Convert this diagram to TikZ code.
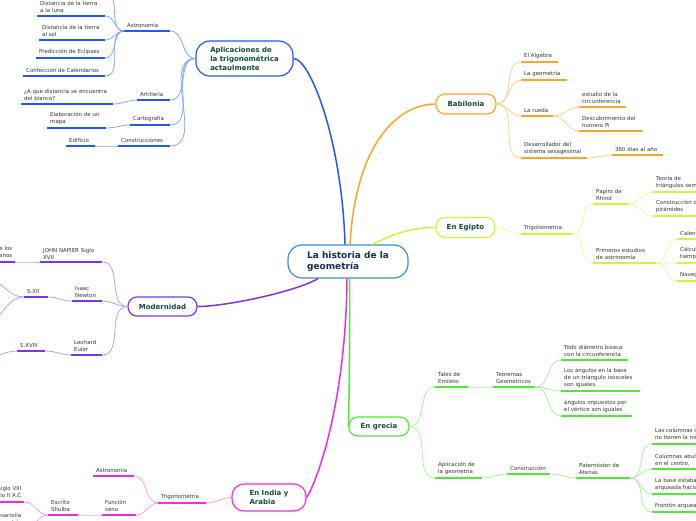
\documentclass[tikz,border=0pt]{standalone}
\usepackage{fontspec}
\setmainfont{DejaVu Sans}
\usepackage{xcolor}
\usepackage{tikz}
\definecolor{txt}{HTML}{333333}
\definecolor{topictxt}{HTML}{124A3A}
\definecolor{histtxt}{HTML}{172A55}
\definecolor{histline}{HTML}{3D8ED4}
\definecolor{blu}{HTML}{2457F5}
\definecolor{blul}{HTML}{86A4FA}
\definecolor{org}{HTML}{FFA526}
\definecolor{orgl}{HTML}{FFCE8A}
\definecolor{yel}{HTML}{D6F23C}
\definecolor{yell}{HTML}{EAF8A0}
\definecolor{pur}{HTML}{7B33F2}
\definecolor{purl}{HTML}{BC9CF8}
\definecolor{grn}{HTML}{4DEB33}
\definecolor{grnl}{HTML}{A9F29C}
\definecolor{mag}{HTML}{EE2AEE}
\definecolor{magl}{HTML}{F59CF5}
\colorlet{br}{black}
\colorlet{brl}{gray}

\begin{document}
\begin{tikzpicture}[x=1pt, y=-1pt,
  topic/.style={draw=#1, line width=1.2pt, rounded corners=9pt, fill=white, align=left, text=topictxt, font=\fontsize{7}{9}\selectfont\bfseries, inner sep=2pt},
  sub/.style={anchor=south west, text width=#1pt, align=left, inner xsep=3pt, inner ysep=2.8pt, font=\fontsize{5.45}{7}\selectfont, text=txt,
    append after command={(\tikzlastnode.south west) edge[ul] (\tikzlastnode.south east)}},
  ul/.style={draw=br, line width=1.8pt},
  lk/.style={draw=brl, line width=0.8pt},
  main/.style={draw=br, line width=1.5pt}
]
\useasboundingbox (0,0) rectangle (696,520);
\fill[white] (0,0) rectangle (696,520);
\clip (0,0) rectangle (696,520);

\node[topic=histline, text=histtxt, font=\fontsize{9}{11}\selectfont\bfseries, minimum width=120pt, minimum height=33pt, rounded corners=14pt] (hist) at (348,261.5) {La historia de la\\geometría};

% Aplicaciones
\begin{scope}
\colorlet{br}{blu}\colorlet{brl}{blul}
\node[topic=blu, minimum width=97pt, minimum height=35pt, rounded corners=14pt] (apl) at (244.5,58.5) {Aplicaciones de\\la trigonométrica\\actaulmente};
\node[sub=40] (astro) at (124,31) {Astronomía};
\node[sub=62] (luna) at (37,16) {Distancia de la tierra\\a la luna};
\node[sub=60] (sol) at (39,40) {Distancia de la tierra\\al sol};
\node[sub=63] (ecl) at (36,58) {Predicción de Eclipses};
\node[sub=76] (cal) at (23,76) {Confección de Calendarios};
\coordinate (astrup) at (105,-8);
\node[sub=27] (art) at (137,100) {Artillería};
\node[sub=86] (dist) at (21,104) {¿A que distancia se encuentra\\del blanco?};
\node[sub=34] (carto) at (130,125) {Cartografía};
\node[sub=53] (mapa) at (47,128) {Elaboración de un\\mapa};
\node[sub=46] (constr) at (118,146) {Construcciones};
\node[sub=23] (edif) at (66,146) {Edificio};
\draw[main] ([xshift=-3pt]hist.north) .. controls (342,140) and (310,58.5) .. (apl.east);
\draw[lk] (apl.west) to[out=180,in=0] (astro.south east);
\draw[lk] (apl.west) to[out=180,in=0] (art.south east);
\draw[lk] (apl.west) to[out=180,in=0] (carto.south east);
\draw[lk] (apl.west) to[out=180,in=0] (constr.south east);
\draw[lk] (astro.south west) to[out=180,in=0] (astrup);
\draw[lk] (astro.south west) to[out=180,in=0] (luna.south east);
\draw[lk] (astro.south west) to[out=180,in=0] (sol.south east);
\draw[lk] (astro.south west) to[out=180,in=0] (ecl.south east);
\draw[lk] (astro.south west) to[out=180,in=0] (cal.south east);
\draw[lk] (art.south west) to[out=180,in=0] (dist.south east);
\draw[lk] (carto.south west) to[out=180,in=0] (mapa.south east);
\draw[lk] (constr.south west) to[out=180,in=0] (edif.south east);
\end{scope}

% Babilonia
\begin{scope}
\colorlet{br}{org}\colorlet{brl}{orgl}
\node[topic=org, minimum width=60pt, minimum height=20pt] (bab) at (466,104) {Babilonia};
\node[sub=31] (alg) at (521,62) {El Algebra};
\node[sub=40] (geo) at (521,80) {La geometría};
\node[sub=26] (rueda) at (521,116) {La rueda};
\node[sub=41] (circ) at (579,107) {estudio de la\\circunferencia};
\node[sub=58] (pi) at (579,131) {Descubrimiento del\\numero Pi};
\node[sub=60] (sexa) at (521,158) {Desarrollador del\\sistema sexagesimal};
\node[sub=45] (dias) at (612,155) {360 dias al año};
\draw[main] ([xshift=2pt]hist.north) .. controls (356,140) and (400,104) .. (bab.west);
\draw[lk] (bab.east) to[out=0,in=180] (alg.south west);
\draw[lk] (bab.east) to[out=0,in=180] (geo.south west);
\draw[lk] (bab.east) to[out=0,in=180] (rueda.south west);
\draw[lk] (bab.east) to[out=0,in=180] (sexa.south west);
\draw[lk] (rueda.south east) to[out=0,in=180] (circ.south west);
\draw[lk] (rueda.south east) to[out=0,in=180] (pi.south west);
\draw[lk] (sexa.south east) to[out=0,in=180] (dias.south west);
\end{scope}

% Egipto
\begin{scope}
\colorlet{br}{yel}\colorlet{brl}{yell}
\node[topic=yel, minimum width=59pt, minimum height=20pt] (egi) at (465.5,227.5) {En Egipto};
\node[sub=45] (etrig) at (521,234) {Trigonometria};
\node[sub=29] (rhind) at (593,204) {Papiro de\\Rhind};
\node[sub=104] (tsem) at (653,192) {Teoría de\\triángulos semejantes};
\node[sub=104] (pir) at (653,216) {Construcción de\\pirámides};
\node[sub=57] (astr) at (593,263) {Primeros estudios\\de astronomía};
\node[sub=54] (calen) at (677,239) {Calendario};
\node[sub=54] (tiemp) at (677,263) {Cálculo del\\tiempo};
\node[sub=54] (naveg) at (677,281) {Navegación};
\draw[main] ([xshift=25pt]hist.north) .. controls (392,234) and (412,227.5) .. (egi.west);
\draw[lk] (egi.east) to[out=0,in=180] (etrig.south west);
\draw[lk] (etrig.south east) to[out=0,in=180] (rhind.south west);
\draw[lk] (etrig.south east) to[out=0,in=180] (astr.south west);
\draw[lk] (rhind.south east) to[out=0,in=180] (tsem.south west);
\draw[lk] (rhind.south east) to[out=0,in=180] (pir.south west);
\draw[lk] (astr.south east) to[out=0,in=180] (calen.south west);
\draw[lk] (astr.south east) to[out=0,in=180] (tiemp.south west);
\draw[lk] (astr.south east) to[out=0,in=180] (naveg.south west);
\end{scope}

% Modernidad
\begin{scope}
\colorlet{br}{pur}\colorlet{brl}{purl}
\node[topic=pur, minimum width=69pt, minimum height=19pt] (mod) at (162.5,306.5) {Modernidad};
\node[sub=56] (napier) at (40,262) {JOHN NAPIER Siglo\\XVII};
\node[sub=99, align=right] (loga) at (-90,262) {Inventor de los\\logaritmos neperianos};
\node[sub=24] (newton) at (72,301) {Isaac\\Newton};
\node[sub=18] (sxii) at (24,297) {S.XII};
\coordinate (sxa) at (-18,276);
\coordinate (sxb) at (-18,325);
\node[sub=25] (euler) at (71,355) {Leohard\\Euler};
\node[sub=22] (sxviii) at (17,351) {S.XVIII};
\coordinate (sxc) at (-15,358);
\draw[main] ([xshift=-30pt]hist.south) .. controls (295,292) and (225,306.5) .. (mod.east);
\draw[lk] (mod.west) to[out=180,in=0] (napier.south east);
\draw[lk] (mod.west) to[out=180,in=0] (newton.south east);
\draw[lk] (mod.west) to[out=180,in=0] (euler.south east);
\draw[lk] (napier.south west) to[out=180,in=0] (loga.south east);
\draw[lk] (newton.south west) to[out=180,in=0] (sxii.south east);
\draw[lk] (sxii.south west) to[out=180,in=0] (sxa);
\draw[lk] (sxii.south west) to[out=180,in=0] (sxb);
\draw[lk] (euler.south west) to[out=180,in=0] (sxviii.south east);
\draw[lk] (sxviii.south west) to[out=180,in=0] (sxc);
\end{scope}

% En grecia
\begin{scope}
\colorlet{br}{grn}\colorlet{brl}{grnl}
\node[topic=grn, minimum width=60pt, minimum height=19pt] (gre) at (379,426.5) {En grecia};
\node[sub=27] (tales) at (435,387) {Tales de\\Emileto};
\node[sub=36] (teor) at (493,387) {Teoremas\\Geometricos};
\node[sub=61] (diam) at (561,360) {Todo diámetro biseca\\con la circunferencia};
\node[sub=73] (isos) at (561,391) {Los ángulos en la base\\de un triangulo isósceles\\son iguales,};
\node[sub=65] (vert) at (561,416) {ángulos impuestos por\\el vértice son iguales};
\node[sub=41] (aplic) at (435,478) {Aplicación de\\la geometria};
\node[sub=37] (cons) at (507,474) {Construcción};
\node[sub=48] (pater) at (576,478) {Paternóster de\\Atenas};
\node[sub=104] (col1) at (652,444) {Las columnas de las esquinas\\no tienen la misma separación};
\node[sub=104] (col2) at (652,469) {Columnas abultadas\\en el centro,};
\node[sub=104] (base) at (652,494) {La base estaba\\arqueada hacia arriba};
\node[sub=104] (fron) at (652,512) {Frontón arqueado};
\draw[main] ([xshift=1.5pt]hist.south) .. controls (350,360) and (349,400) .. (gre.west);
\draw[lk] (gre.east) to[out=0,in=180] (tales.south west);
\draw[lk] (gre.east) to[out=0,in=180] (aplic.south west);
\draw[lk] (tales.south east) to[out=0,in=180] (teor.south west);
\draw[lk] (teor.south east) to[out=0,in=180] (diam.south west);
\draw[lk] (teor.south east) to[out=0,in=180] (isos.south west);
\draw[lk] (teor.south east) to[out=0,in=180] (vert.south west);
\draw[lk] (aplic.south east) to[out=0,in=180] (cons.south west);
\draw[lk] (cons.south east) to[out=0,in=180] (pater.south west);
\draw[lk] (pater.south east) to[out=0,in=180] (col1.south west);
\draw[lk] (pater.south east) to[out=0,in=180] (col2.south west);
\draw[lk] (pater.south east) to[out=0,in=180] (base.south west);
\draw[lk] (pater.south east) to[out=0,in=180] (fron.south west);
\end{scope}

% En India y Arabia
\begin{scope}
\colorlet{br}{mag}\colorlet{brl}{magl}
\node[topic=mag, minimum width=74pt, minimum height=27pt, rounded corners=12pt] (ind) at (269,497.5) {En India y\\Arabia};
\node[sub=42] (itrig) at (158,503) {Trigonometría};
\node[sub=35] (iastro) at (93,476) {Astronomía};
\node[sub=28] (seno) at (102,515) {Función\\seno};
\node[sub=24] (shulba) at (48,515) {Escrito\\Shulba};
\node[sub=98, align=right] (siglo) at (-80,502) {Del siglo VIII\\al siglo II A.C};
\node[sub=98, align=right] (desa) at (-80,529) {Se desarrolla\\la trigonometría};
\draw[main] ([xshift=-1pt]hist.south) .. controls (346,400) and (318,480) .. (ind.east);
\draw[lk] (ind.west) to[out=180,in=0] (itrig.south east);
\draw[lk] (itrig.south west) to[out=180,in=0] (iastro.south east);
\draw[lk] (itrig.south west) to[out=180,in=0] (seno.south east);
\draw[lk] (seno.south west) to[out=180,in=0] (shulba.south east);
\draw[lk] (shulba.south west) to[out=180,in=0] (siglo.south east);
\draw[lk] (shulba.south west) to[out=180,in=0] (desa.south east);
\end{scope}
\end{tikzpicture}
\end{document}
